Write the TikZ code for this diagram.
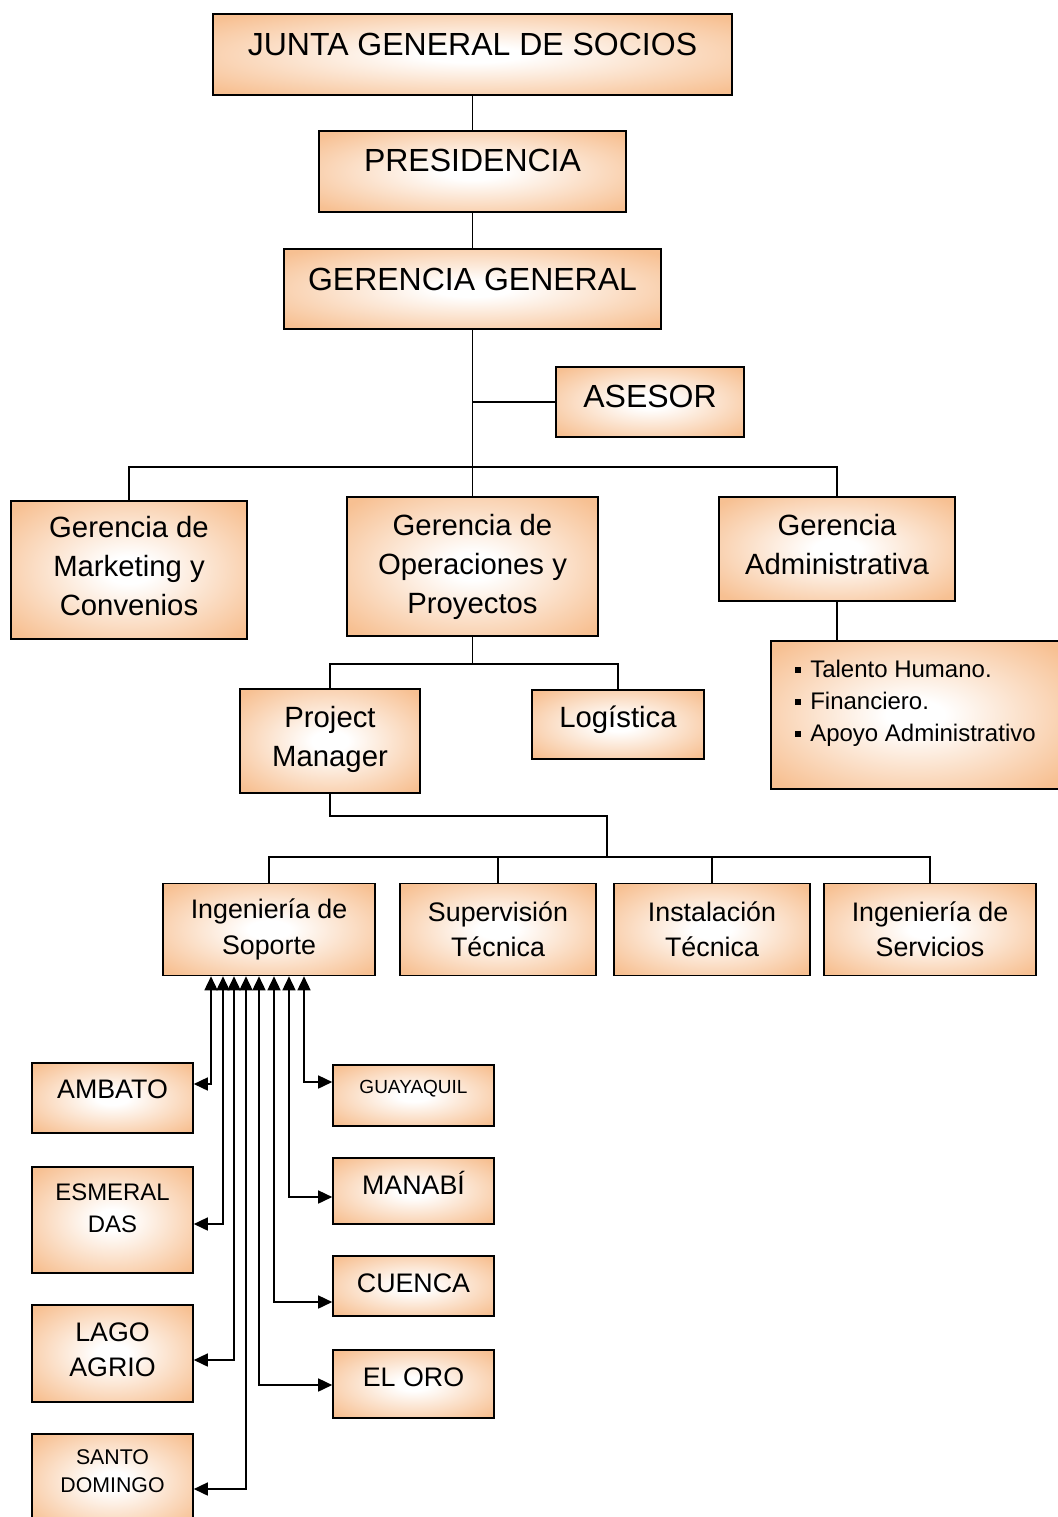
\documentclass[tikz,border=0pt]{standalone}
\usepackage{fontspec}
\setmainfont{Liberation Sans}
\usetikzlibrary{arrows.meta}
\definecolor{boxtan}{RGB}{247,192,146}
\pgfdeclareradialshading{glow}{\pgfpoint{0bp}{0bp}}{color(0bp)=(white); color(5bp)=(white); color(33bp)=(boxtan); color(50bp)=(boxtan)}
\tikzstyle{unit}=[draw,line width=1.6pt,shade,shading=glow,inner sep=0pt,align=center]
\tikzstyle{big}=[font=\fontsize{32}{38}\selectfont]
\tikzstyle{mid}=[font=\fontsize{29.3}{39}\selectfont]
\tikzstyle{small}=[font=\fontsize{26.8}{35.5}\selectfont]
\tikzstyle{link}=[draw,line width=1.6pt]
\tikzstyle{twoway}=[link,{Triangle[length=14pt,width=13pt]}-{Triangle[length=14pt,width=13pt]}]
\tikzset{lift/.style={text depth=#1}}

\begin{document}
\begin{tikzpicture}[x=1pt,y=-1pt]
	\useasboundingbox (0,0) rectangle (1057,1517);

	% Draw the top of the chart
	\node[unit,big,minimum width=519pt,minimum height=81pt,lift=20pt] (junta) at (472.5,54.5) {JUNTA GENERAL DE SOCIOS};
	\node[unit,big,minimum width=307pt,minimum height=81pt,lift=22pt] (pres) at (472.5,171.5) {PRESIDENCIA};
	\node[unit,big,minimum width=377pt,minimum height=80pt,lift=20pt] (gg) at (472.5,289) {GERENCIA GENERAL};
	\node[unit,big,minimum width=188pt,minimum height=70pt,lift=12pt] (asesor) at (650,402) {ASESOR};

	% Draw the managements
	\node[unit,mid,minimum width=236pt,minimum height=138pt,lift=8pt] (mkt) at (129,570) {Gerencia de\\Marketing y\\Convenios};
	\node[unit,mid,minimum width=251pt,minimum height=139pt] (ops) at (472.5,566.5) {Gerencia de\\Operaciones y\\Proyectos};
	\node[unit,mid,minimum width=236pt,minimum height=104pt,lift=9pt] (adm) at (837,549) {Gerencia\\Administrativa};
	\node[unit,font=\fontsize{24}{32}\selectfont,align=left,minimum width=289pt,minimum height=148pt,lift=29pt] (list) at (915.5,715)
		{\rule[4pt]{6pt}{6pt}\hspace{9pt}Talento Humano.\\\rule[4pt]{6pt}{6pt}\hspace{9pt}Financiero.\\\rule[4pt]{6pt}{6pt}\hspace{9pt}Apoyo Administrativo};
	\node[unit,mid,minimum width=180pt,minimum height=104pt,lift=10pt] (pm) at (330,741) {Project\\Manager};
	\node[unit,mid,minimum width=172pt,minimum height=69pt,lift=15pt] (log) at (618,724.5) {Logística};

	% Draw the technical areas
	\foreach \pos/\w/\name/\txt in {{(269,929.5)/212/ingsop/{Ingeniería de\\Soporte}}, {(498,929.5)/196/sup/{Supervisión\\Técnica}},
									{(712,929.5)/196/inst/{Instalación\\Técnica}}, {(930,929.5)/212/serv/{Ingeniería de\\Servicios}}}
	\node[unit,small,minimum width=\w pt,minimum height=92pt] (\name) at \pos {\txt};

	% Draw the offices
	\node[unit,small,minimum width=161pt,minimum height=70pt,lift=18pt] (ambato) at (112.5,1098) {AMBATO};
	\node[unit,font=\fontsize{23.9}{32}\selectfont,minimum width=161pt,minimum height=106pt,lift=24pt] (esmer) at (112.5,1220) {ESMERAL\\DAS};
	\node[unit,small,minimum width=161pt,minimum height=97pt,lift=8pt] (lago) at (112.5,1353.5) {LAGO\\AGRIO};
	\node[unit,font=\fontsize{21.3}{28}\selectfont,minimum width=161pt,minimum height=94pt,lift=20pt] (santo) at (112.5,1481) {SANTO\\DOMINGO};
	\node[unit,font=\fontsize{19}{23}\selectfont,minimum width=161pt,minimum height=61pt,lift=17pt] (guay) at (413.5,1095.5) {GUAYAQUIL};
	\node[unit,small,minimum width=161pt,minimum height=66pt,lift=17pt] (manabi) at (413.5,1191) {MANABÍ};
	\node[unit,small,minimum width=161pt,minimum height=60pt,lift=6pt] (cuenca) at (413.5,1286) {CUENCA};
	\node[unit,small,minimum width=161pt,minimum height=68pt,lift=14pt] (eloro) at (413.5,1384) {EL ORO};

	% Connect the boxes
	\coordinate (hub) at (472.5,467);
	\coordinate (opsbar) at (472.5,664);
	\coordinate (pmturn) at (607,816);
	\coordinate (techbar) at (607,857);
	\path[link] (junta) -- (pres);
	\path[link] (pres) -- (gg);
	\path[link] (gg) -- (hub);
	\path[link] (gg.south |- asesor) -- (asesor);
	\path[link] (mkt) |- (hub) -| (adm);
	\path[link] (hub) -- (ops);
	\path[link] (adm) -- (adm |- list.north);
	\path[link] (ops) -- (opsbar);
	\path[link] (pm) |- (opsbar) -| (log);
	\path[link] (pm) |- (pmturn) -- (techbar);
	\path[link] (ingsop) |- (techbar) -| (serv);
	\foreach \name in {sup, inst}
	\path[link] (\name) -- (\name |- techbar);

	% Connect the offices with the support area
	\foreach \x/\y/\name in {211/1084/ambato, 223/1224/esmer, 234/1360/lago, 246/1489/santo}
	{
		\coordinate (t\name) at (\x,\y);
		\path[twoway] (ingsop.south -| t\name) -- (t\name) -- (\name.east |- t\name);
	}
	\foreach \x/\y/\name in {259/1385/eloro, 274/1302/cuenca, 289/1197/manabi, 304/1082/guay}
	{
		\coordinate (t\name) at (\x,\y);
		\path[twoway] (ingsop.south -| t\name) -- (t\name) -- (\name.west |- t\name);
	}
\end{tikzpicture}
\end{document}
